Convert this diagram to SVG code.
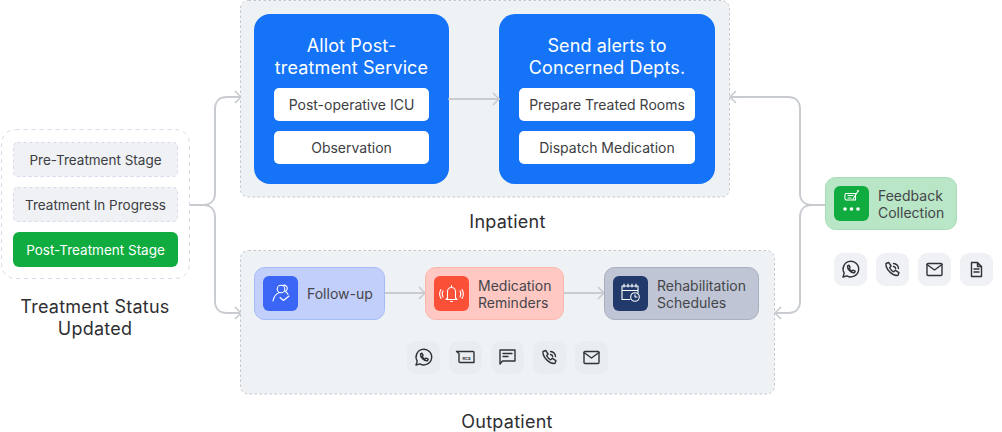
<svg xmlns="http://www.w3.org/2000/svg" width="1002" height="432" viewBox="0 0 1002 432">
<style>
text{font-family:Inter,"Liberation Sans",sans-serif;font-size:14px;fill:#3d3d42;text-anchor:middle}
.st{font-size:13.500px}
.ttl{font-size:18px;fill:#2f2f33;letter-spacing:.25px}
.hd{font-size:18px;fill:#fff;letter-spacing:.12px}
.l{text-anchor:start;fill:#45454a}
.panel{fill:#eff2f5;stroke:#c2c5ca;stroke-width:1;stroke-dasharray:2.500 2.500}
.blue{fill:#1473f7}
.wh{fill:#fff}
.grey{fill:#eff1f5;stroke:#d5daea;stroke-dasharray:3 3}
.chip{fill:#eaedf0}
.chip2{fill:#eff1f4}
.con{fill:none;stroke:#c8cbd0;stroke-width:2;stroke-linecap:round}
.ar{fill:none;stroke:#c8cbd0;stroke-width:1.600}
.wi{fill:none;stroke:#fff;stroke-width:1.100;stroke-linecap:round;stroke-linejoin:round}
.di{fill:none;stroke:#2f3338;stroke-width:1.400;stroke-linecap:round;stroke-linejoin:round}
</style>
<defs>
<marker id="ah" markerWidth="10" markerHeight="14" refX="8" refY="7" orient="auto" markerUnits="userSpaceOnUse"><path class="ar" d="M2 1l6 6-6 6"/></marker>
<g id="wa"><path class="di" d="M-7.500 7.500l1.200-3.900a7.800 7.800 0 1 1 2.700 2.700z"/><path class="di" d="M-3-3.600l1.500-.7 1.100 2.200-.9 1.100a5.500 5.500 0 0 0 2.700 2.600l1.100-1 2.200 1.100-.7 1.500c-3.300.7-7.400-3.500-7-6.800z"/></g>
<g id="ph"><path class="di" d="M-6.500-6l2.700-1 2.400 3.500-1.500 1.700a9.500 9.500 0 0 0 4.100 4.100l1.700-1.500 3.500 2.400-1 2.700C-.5 6.500-7-.5-6.500-6z"/><path class="di" d="M1-6a5.500 5.500 0 0 1 5 5M1-3a2.500 2.500 0 0 1 2.200 2.200"/></g>
<g id="ml"><rect class="di" x="-7.500" y="-6" width="15" height="12" rx="1"/><path class="di" d="M-7.500-5l7.500 5.500 7.500-5.500"/></g>
<g id="doc"><path class="di" d="M-5-7h6l4 4v10h-10zM1-7v4h4M-2.500-.5h5M-2.500 2.500h5"/></g>
<g id="rcs"><path class="di" d="M-9-6h16.500a1 1 0 0 1 1 1v10h-14a1 1 0 0 1-1-1v-8z"/><text y="2.200" x="1" style="font-size:4px;font-weight:700;fill:#2f3338">RCS</text></g>
<g id="sms"><path class="di" d="M-7.500-7h15v11h-12.500l-2.500 3z"/><path class="di" d="M-4.500-3.500h9M-4.500-.5h5"/></g>
</defs>

<g id="connectors">
<path class="con" d="M190 205h13c8 0 12-5 12-12v-84c0-8 5-12 12-12h14" marker-end="url(#ah)"/>
<path class="con" d="M203 205c8 0 12 5 12 12v84c0 8 5 12 12 12h14" marker-end="url(#ah)"/>
<path class="con" d="M825 205h-13c-8 0-12-5-12-12v-84c0-8-5-12-12-12h-58" marker-end="url(#ah)"/>
<path class="con" d="M812 205c-8 0-12 5-12 12v84c0 8-5 12-12 12h-13" marker-end="url(#ah)"/>
</g>

<g id="status">
<rect x="1.500" y="129.500" width="188" height="149" rx="14" fill="#fff" stroke="#d5daea" stroke-dasharray="4 4"/>
<g id="pre"><rect class="grey" x="13.500" y="142.500" width="164" height="34" rx="4"/><text class="st" x="95.500" y="165">Pre-Treatment Stage</text></g>
<g id="progress"><rect class="grey" x="13.500" y="187.500" width="164" height="34" rx="4"/><text class="st" x="95.500" y="210">Treatment In Progress</text></g>
<g id="post"><rect x="13" y="232" width="165" height="35" rx="6" fill="#10ac40"/><text class="st" x="95.500" y="255" style="fill:#fff">Post-Treatment Stage</text></g>
<text class="ttl" x="95" y="313">Treatment Status</text><text class="ttl" x="95" y="335">Updated</text>
</g>

<g id="inpatient">
<rect class="panel" x="240.500" y=".5" width="489" height="196.500" rx="8"/>
<g id="allot"><rect class="blue" x="254" y="14" width="195" height="170" rx="16"/>
<text class="hd" x="351.500" y="52">Allot Post-</text><text class="hd" x="351.500" y="74">treatment Service</text>
<rect class="wh" x="274" y="88" width="155" height="33" rx="5"/><text x="351.500" y="110">Post-operative ICU</text>
<rect class="wh" x="274" y="131" width="155" height="33" rx="5"/><text x="351.500" y="153">Observation</text></g>
<g id="alerts"><rect class="blue" x="499" y="14" width="216" height="170" rx="16"/>
<text class="hd" x="607" y="52">Send alerts to</text><text class="hd" x="607" y="74">Concerned Depts.</text>
<rect class="wh" x="519" y="88" width="176" height="33" rx="5"/><text x="607" y="110">Prepare Treated Rooms</text>
<rect class="wh" x="519" y="131" width="176" height="33" rx="5"/><text x="607" y="153">Dispatch Medication</text></g>
<path class="con" d="M449 99h50" marker-end="url(#ah)"/>
<text class="ttl" x="507.500" y="228">Inpatient</text>
</g>

<g id="outpatient">
<rect class="panel" x="240.500" y="250.500" width="534" height="143.500" rx="8"/>
<path class="con" d="M385 293h40" marker-end="url(#ah)"/>
<path class="con" d="M564 293h40" marker-end="url(#ah)"/>
<g id="followup"><rect x="254.500" y="267.500" width="130" height="52" rx="10" fill="#c2cffb" stroke="#a5bbf7"/><rect x="263" y="276" width="35" height="35" rx="6" fill="#3b66f5"/>
<circle class="wi" cx="281" cy="289" r="3.800"/><path class="wi" d="M273 301c1-5 3.500-7.500 6.500-8.500M282.500 285.500a3.700 3.700 0 0 1 4.500 1.500c.8 2-.3 4-2 4.500 1.500.5 2.500 1.500 3 3M280 297.500l3.500 3 5.500-4.500"/>
<text class="l" x="307" y="299">Follow-up</text></g>
<g id="medrem"><rect x="425.500" y="267.500" width="138" height="52" rx="10" fill="#ffc8c2" stroke="#fbb6ae"/><rect x="434" y="276" width="35" height="35" rx="6" fill="#fa5037"/>
<path class="wi" d="M451.500 287v-1.500M447.500 298v-6.500a4 4 0 0 1 8 0v6.500l1.500 1.500h-11zM450.500 301.500h2M443 291c-1 1.700-1 4 0 6M441 289.500c-1.500 2.500-1.500 6.500 0 9M460 291c1 1.700 1 4 0 6M462 289.500c1.500 2.500 1.500 6.500 0 9"/>
<text class="l" x="478" y="291">Medication</text><text class="l" x="478" y="308">Reminders</text></g>
<g id="rehab"><rect x="604.500" y="267.500" width="154" height="52" rx="10" fill="#bfc5d4" stroke="#a9afbf"/><rect x="613" y="276" width="35" height="35" rx="6" fill="#213a6b"/>
<path class="wi" d="M630 299.500h-8v-13.500h16v7M622 290.500h16M624 284v3M628 284v3M632 284v3M636 284v3"/><circle class="wi" cx="635" cy="297" r="4.300"/><path class="wi" d="M635 294.800v2.200h2"/>
<text class="l" x="657" y="291">Rehabilitation</text><text class="l" x="657" y="308">Schedules</text></g>
<g id="ochannels">
<rect class="chip" x="407" y="341" width="33" height="33" rx="9"/><use href="#wa" x="423.500" y="357.500"/>
<rect class="chip" x="449" y="341" width="33" height="33" rx="9"/><use href="#rcs" x="465.500" y="357.500"/>
<rect class="chip" x="491" y="341" width="33" height="33" rx="9"/><use href="#sms" x="507.500" y="357"/>
<rect class="chip" x="533" y="341" width="33" height="33" rx="9"/><use href="#ph" x="549.500" y="357.500"/>
<rect class="chip" x="575" y="341" width="33" height="33" rx="9"/><use href="#ml" x="591.500" y="357.500"/>
</g>
<text class="ttl" x="507" y="428">Outpatient</text>
</g>

<g id="feedback">
<rect x="825.500" y="177.500" width="131" height="52" rx="10" fill="#b8e6c6" stroke="#a6dcb7"/><rect x="834" y="186" width="35" height="35" rx="6" fill="#10ac40"/>
<path class="wi" d="M846 200h9.500v-6.500h-9.500c-1.500 0-1.500 6.500 0 6.500zM848 195.500h5M848 198h3M853 199l4.500-7"/><circle cx="858" cy="191" r="1" fill="#fff"/>
<g fill="#fff"><circle cx="845" cy="209" r="1.800"/><circle cx="851.500" cy="209" r="1.800"/><circle cx="858" cy="209" r="1.800"/></g>
<text class="l" x="878" y="201">Feedback</text><text class="l" x="878" y="217.500">Collection</text>
</g>
<g id="fchannels">
<rect class="chip2" x="834" y="253" width="33" height="33" rx="9"/><use href="#wa" x="850.500" y="269.500"/>
<rect class="chip2" x="876" y="253" width="33" height="33" rx="9"/><use href="#ph" x="892.500" y="269.500"/>
<rect class="chip2" x="918" y="253" width="33" height="33" rx="9"/><use href="#ml" x="934.500" y="269.500"/>
<rect class="chip2" x="960" y="253" width="33" height="33" rx="9"/><use href="#doc" x="976.500" y="269.500"/>
</g>
</svg>
